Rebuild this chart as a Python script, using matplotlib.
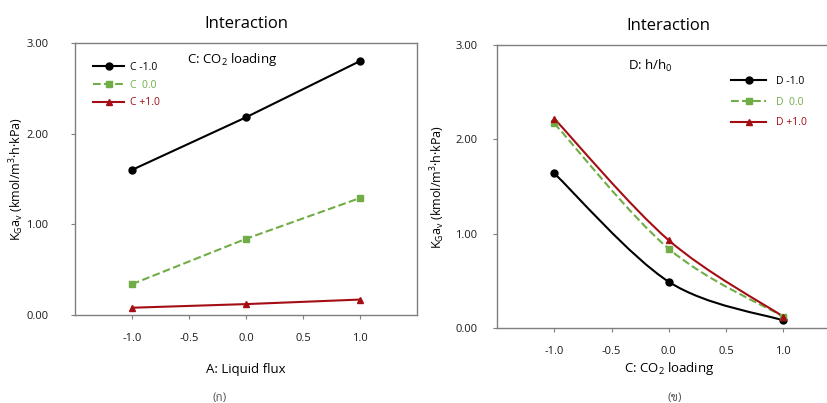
import numpy as np
import matplotlib
matplotlib.use('Agg')
import matplotlib.pyplot as plt
from matplotlib.path import Path
from matplotlib.patches import PathPatch
from matplotlib.lines import Line2D

plt.rcParams['font.family'] = ['Open Sans', 'DejaVu Sans', 'Noto Sans']

" DATA "

levels = [-1.0, 0.0, 1.0]

# left: A (liquid flux) x C (CO2 loading)
c_labels = ['C -1.0', 'C  0.0', 'C +1.0']
c_m1 = [1.60, 2.18, 2.80]
c_0 = [0.34, 0.84, 1.29]
c_p1 = [0.08, 0.12, 0.17]

# right: C (CO2 loading) x D (h/h0)
d_labels = ['D -1.0', 'D  0.0', 'D +1.0']
d_m1 = [1.64, 0.49, 0.08]
d_0 = [2.17, 0.84, 0.12]
d_p1 = [2.22, 0.93, 0.12]

xticks = [-1.0, -0.5, 0.0, 0.5, 1.0]
yticks = [0.0, 1.0, 2.0, 3.0]
captions = ['(ก)', '(ข)']

black = '#000000'
green = '#70AD47'
red = '#A50D14'
styles = [dict(color=black, marker='o', ls='-', ms=5),
          dict(color=green, marker='s', ls='--', ms=5),
          dict(color=red, marker='^', ls='-', ms=5)]
thai_fonts = ['Sarabun', 'Anuphan', 'Athiti', 'DejaVu Sans']


def smooth_path(x, y):
    # excel-like smoothed line: cubic bezier segments through the points
    pts = np.column_stack([x, y]).astype(float)
    ext = np.vstack([pts[0], pts, pts[-1]])
    verts = [pts[0]]
    codes = [Path.MOVETO]
    for i in range(len(pts) - 1):
        p0, p1, p2, p3 = ext[i], ext[i + 1], ext[i + 2], ext[i + 3]
        verts += [p1 + (p2 - p0) / 6, p2 - (p3 - p1) / 6, p2]
        codes += [Path.CURVE4] * 3
    return Path(verts, codes)


def style_axes(ax):
    ax.set_xlim(-1.5, 1.5)
    ax.set_ylim(0, 3)
    ax.set_xticks(xticks)
    ax.set_xticklabels([f'{t:.1f}' for t in xticks])
    ax.set_yticks(yticks)
    ax.set_yticklabels([f'{t:.2f}' for t in yticks])
    for s in ax.spines.values():
        s.set_color('#7f7f7f')
        s.set_linewidth(1.0)
    ax.tick_params(direction='out', length=3, color='#7f7f7f', labelsize=8, labelcolor='#1a1a1a')
    ax.set_ylabel(r'K$\mathregular{_G}$a$\mathregular{_v}$ (kmol/m$\mathregular{^3}$·h·kPa)', fontsize=9)


fig = plt.figure(figsize=(8.27, 4.03), dpi=100)
ax1 = fig.add_axes([0.0907, 0.2184, 0.4135, 0.675])
ax2 = fig.add_axes([0.601, 0.1861, 0.4154, 0.702])

# left panel
for yv, lab, st in zip([c_m1, c_0, c_p1], c_labels, styles):
    ax1.plot(levels, yv, lw=1.5, label=lab, **st)
style_axes(ax1)
ax1.tick_params(axis='y', pad=16)
ax1.tick_params(axis='x', pad=10)
ax1.yaxis.labelpad = 0
ax1.set_xlabel('A: Liquid flux', fontsize=9.5, labelpad=14)
ax1.set_title('Interaction', fontsize=12, pad=11)
ax1.text(0.46, 0.94, r'C: CO$\mathregular{_2}$ loading', transform=ax1.transAxes,
         ha='center', va='center', fontsize=9.5)
ax1.legend(loc='upper left', bbox_to_anchor=(0.025, 0.965), frameon=False, fontsize=7.5,
           handlelength=3.0, handletextpad=0.6, labelspacing=0.65, labelcolor='linecolor')

# right panel, smoothed lines
handles = []
for yv, lab, st in zip([d_m1, d_0, d_p1], d_labels, styles):
    ax2.plot(levels, yv, color=st['color'], marker=st['marker'], ms=st['ms'], ls='none')
    ax2.add_patch(PathPatch(smooth_path(levels, yv), fill=False, edgecolor=st['color'],
                            lw=1.5, ls=st['ls']))
    handles.append(Line2D([], [], lw=1.5, **st))
style_axes(ax2)
ax2.tick_params(axis='y', pad=11)
ax2.tick_params(axis='x', pad=10)
ax2.yaxis.labelpad = 6
ax2.set_xlabel(r'C: CO$\mathregular{_2}$ loading', fontsize=9.5, labelpad=2)
ax2.set_title('Interaction', fontsize=12, pad=11)
ax2.text(0.445, 0.926, r'D: h/h$\mathregular{_0}$', transform=ax2.transAxes,
         ha='center', va='center', fontsize=9.5)
ax2.legend(handles, d_labels, loc='upper left', bbox_to_anchor=(0.655, 0.925), frameon=False,
           fontsize=7.5, handlelength=3.3, handletextpad=1.0, labelspacing=0.95, labelcolor='linecolor')

fig.text(220 / 827, 1 - 398 / 403, captions[0], ha='center', va='center', fontsize=8.5,
         color='#555555', family=thai_fonts)
fig.text(675 / 827, 1 - 398 / 403, captions[1], ha='center', va='center', fontsize=8.5,
         color='#555555', family=thai_fonts)

fig.savefig('out.png', dpi=100)
